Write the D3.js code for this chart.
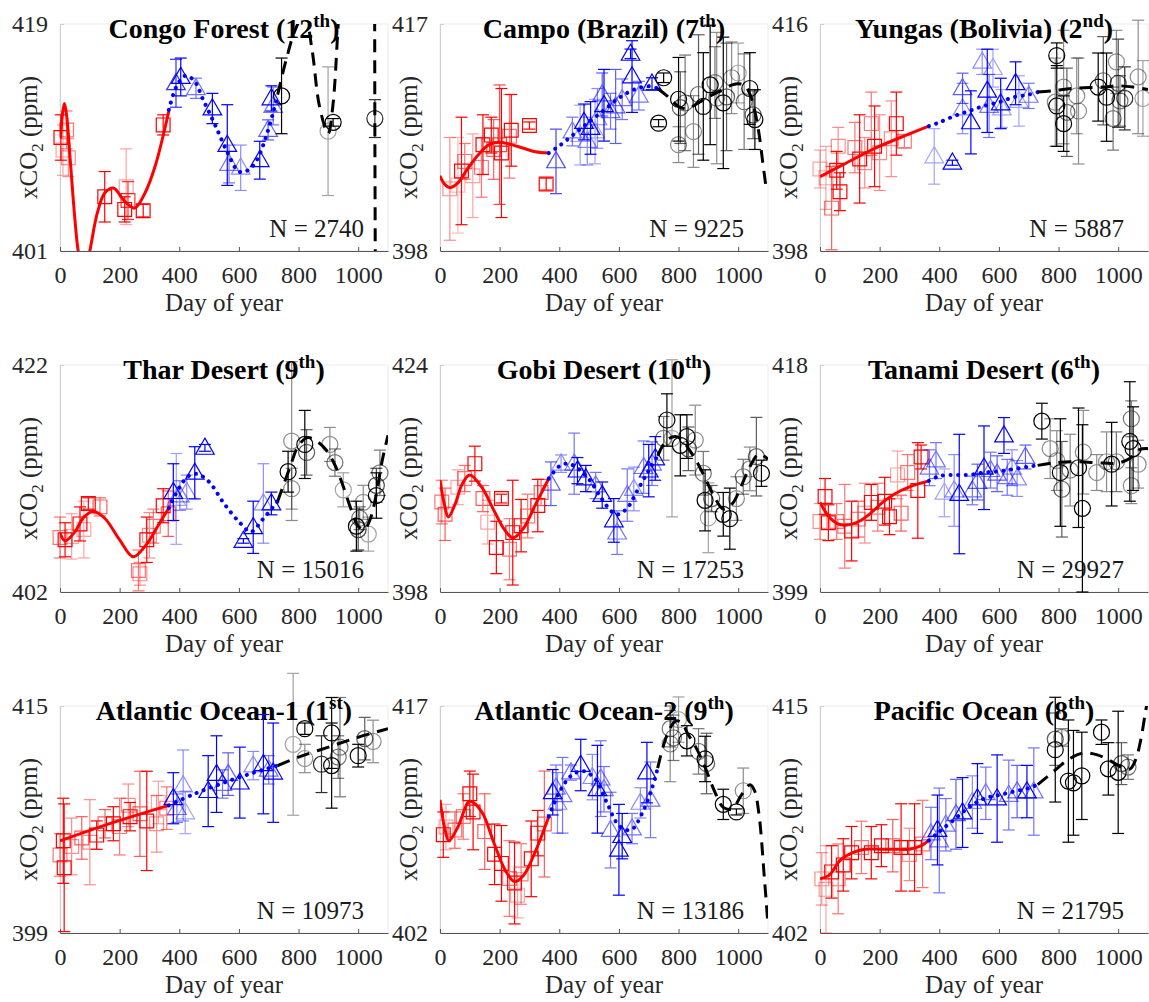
<!DOCTYPE html>
<html>
<head>
<meta charset="utf-8">
<script src="https://cdn.jsdelivr.net/npm/d3@7"></script>
<style>
  body { margin: 0; background: #fff; }
  svg { display: block; font-family: "Liberation Serif", "Times New Roman", serif; }
</style>
</head>
<body>
<svg id="chart" width="1149" height="1002"></svg>
<script>
// ---- shared axis settings ----
const X_DOMAIN = [0, 1100];
const X_TICKS = [0, 200, 400, 600, 800, 1000];

// Observations: [day, xCO2 (ppm), error half-width (ppm), weight 0..1]
// Fitted curves: [day, xCO2 (ppm)]

// Congo Forest
const congoYear1 = [[3,410.0,1.8,1],[22,410.6,1.5,0.5],[28,408.4,1.5,0.4],[10,409.0,2,0.3],[150,405.3,2.0,1],[222,406.1,3.0,0.3],[217,404.3,1.0,1],[228,405.0,1.5,0.8],[279,404.2,0.5,1],[346,411.0,0.8,1]];
const congoYear2 = [[389,414.3,1.9,0.8],[405,414.8,1.5,1],[456,413.9,0.8,0.5],[511,412.3,1.2,1],[561,409.4,3.2,1],[567,407.9,1.5,0.5],[606,407.6,1.8,0.4],[670,408.2,1.5,1],[698,410.6,0.8,0.6],[709,413.1,1.0,1],[715,412.5,1.5,0.5]];
const congoYear3 = [[743,413.3,3.0,1],[899,410.5,5.1,0.3],[916,411.2,0.3,1],[1056,411.5,1.5,0.8]];
const congoFit1 = [[2,409.9],[9,412.0],[15,412.7],[22,411.8],[35,408.0],[50,403.5],[61,401],[80,398.8],[100,401],[125,404.0],[150,405.6],[179,406.0],[215,405.0],[250,404.4],[285,405.6],[320,407.8],[365,412.1]];
const congoFit2 = [[365,412.2],[390,414.0],[420,414.9],[450,414.5],[480,413.0],[520,411.0],[560,408.9],[600,407.3],[630,407.4],[660,408.2],[690,410.0],[715,412.0],[730,413.4]];
const congoFit3 = [[730,413.4],[760,416.3],[790,418.6],[820,419.8],[845,417],[870,412.5],[899,410.3],[915,412.5],[933,419],[960,430],[1000,440],[1045,440],[1054,425],[1056,410],[1058,395],[1060,380]];

// Campo (Brazil)
const campoYear1 = [[33,403.2,4.3,0.4],[72,404.7,4.5,1],[83,405.5,1.5,0.5],[110,404.3,3.5,0.3],[139,405.0,2.5,0.5],[144,406.9,2.5,1],[172,407.7,1.5,1],[180,406.5,2.5,0.6],[200,406.9,5.0,0.7],[206,406.2,5.4,1],[233,407.6,3.5,0.5],[239,408.1,3,1],[300,408.5,0.3,1],[356,403.6,0.5,1],[60,403.5,4,0.2]];
const campoYear2 = [[389,405.5,2.7,0.7],[444,408.0,1.2,0.5],[483,408.8,1.5,1],[494,407.2,2,0.4],[505,408.3,2.2,1],[528,409.1,2.5,0.4],[544,411.1,1.8,0.6],[550,410.2,3,1],[572,409.7,1.5,0.5],[589,410.1,3.1,0.6],[611,410.7,1.7,0.5],[639,414.5,0.4,1],[644,412.6,3.0,1],[667,411.0,1.2,0.5],[711,412.0,0.5,1],[470,407.7,2.5,0.3],[520,408.0,2.7,0.3]];
const campoYear3 = [[733,408.7,0.3,1],[750,412.5,0.4,1],[800,410.7,3.5,1],[806,410.0,3,0.6],[800,406.9,1.5,0.4],[822,410.4,4,0.5],[850,408.0,3,0.4],[867,411.1,5,0.6],[883,410.1,4.5,1],[906,411.9,5,1],[922,412.1,3,0.5],[928,410.8,5.5,0.4],[950,410.4,5.5,1],[961,410.9,4.5,0.6],[978,412.5,3,0.4],[1000,412.9,2.5,0.3],[1039,411.6,3.0,1],[1050,409.4,2,0.6],[1056,409.0,2.5,1],[1020,410.5,4,0.5]];
const campoFit1 = [[0,404.3],[15,403.6],[33,403.3],[60,403.7],[90,404.8],[130,406.1],[165,406.9],[200,407.1],[240,406.9],[280,406.6],[320,406.3],[365,406.2]];
const campoFit2 = [[365,406.2],[400,406.8],[450,407.8],[500,408.8],[550,409.8],[600,410.8],[650,411.5],[700,411.8],[730,411.6]];
const campoFit3 = [[730,411.6],[770,410.8],[800,410.1],[830,409.9],[860,410.3],[900,410.9],[940,411.4],[980,411.9],[1000,412.0],[1020,411.9],[1040,411.1],[1055,409.8],[1070,407.8],[1082,405.5],[1092,403.6]];

// Yungas (Bolivia)
const yungasYear1 = [[0,404.5,1.5,0.3],[39,401.4,3.3,0.6],[56,404.4,1.5,1],[61,406.3,1.5,0.4],[67,402.7,1.5,1],[117,406.2,2.0,0.5],[133,405.3,3.5,1],[150,405.0,2.0,0.4],[172,408.1,2.5,0.5],[183,406.3,3.2,1],[200,405.8,3,0.4],[239,406.9,3.0,0.4],[256,408.1,2.5,1],[283,406.7,0.5,0.5],[20,403.8,2.5,0.3]];
const yungasYear2 = [[383,405.5,2.2,0.3],[444,405.0,0.2,1],[478,410.9,1.2,0.6],[478,409.3,2,0.4],[506,408.2,2.5,1],[544,413.0,1.0,0.4],[561,410.7,3.3,1],[567,409.5,2.5,0.5],[606,409.7,2.0,1],[656,411.3,1.7,1],[667,409.9,2.0,0.3],[700,410.3,1.0,0.5],[610,409.3,1.5,0.3],[580,412.5,1.5,0.3]];
const yungasYear3 = [[794,413.5,1.0,1],[789,409.8,3.5,0.4],[794,409.5,3.2,1],[817,408.1,2.2,1],[817,411.0,4.5,0.4],[828,409.0,3.5,0.6],[861,410.3,3.0,0.4],[867,409.1,4.2,0.4],[933,411.0,2.7,1],[950,411.5,3.5,0.6],[961,410.2,3.5,1],[983,408.5,2.5,0.5],[994,413.0,2.5,0.4],[1000,411.3,3.5,0.7],[1006,409.9,2,0.5],[1022,410.1,2.5,0.8],[1067,411.8,4.5,0.4],[1083,410.1,3,0.3]];
const yungasFit1 = [[0,403.9],[90,405.0],[180,406.1],[270,407.0],[365,407.9]];
const yungasFit2 = [[365,407.9],[400,408.2],[450,408.7],[500,409.1],[550,409.5],[600,409.8],[650,410.2],[700,410.4],[730,410.6]];
const yungasFit3 = [[730,410.6],[780,410.7],[850,410.9],[950,411.0],[1000,411.1],[1050,411.0],[1100,410.8]];

// Thar Desert
const tharYear1 = [[0,406.8,1.8,0.5],[17,406.6,1.5,1],[39,406.9,2,0.3],[67,408.0,1.5,1],[95,409.8,0.5,1],[134,409.5,0.8,0.6],[263,403.9,1.8,0.5],[268,403.6,1.0,0.4],[291,406.6,2.0,1],[313,407.8,1.5,0.5],[346,409.6,1.5,1],[363,408.9,2,0.6],[80,407.5,2.5,0.3],[300,407,2,0.4]];
const tharYear2 = [[380,410.8,2.5,1],[402,410.5,1.3,0.5],[425,410.8,1.5,0.4],[452,412.5,2.3,1],[486,414.7,0.3,1],[615,406.5,0.2,1],[648,407.7,2.3,1],[682,409.8,3.5,0.4],[709,409.8,1.0,1],[390,410.2,4,0.3]];
const tharYear3 = [[777,415.3,7,0.4],[765,412.6,1.8,1],[777,411.1,1.8,0.4],[821,415.0,3.0,1],[827,414.3,2,0.6],[905,415.0,1.5,0.4],[922,413.4,1.2,0.5],[950,411.0,1.5,0.3],[994,407.8,2.2,1],[1000,407.5,1.8,0.7],[1034,407.1,1.5,0.3],[1017,409.9,1.5,0.4],[1061,410.5,2.0,1],[1073,412.5,2.0,0.5],[1061,411.4,1.5,0.7],[1005,408.5,1,0.5]];
const tharFit1 = [[0,407.2],[17,406.5],[50,407.3],[80,408.6],[112,409.1],[150,408.5],[200,406.6],[246,405.1],[290,406.2],[330,407.9],[365,409.4]];
const tharFit2 = [[365,409.4],[400,411.2],[430,412.2],[460,412.4],[500,411.7],[550,409.8],[600,408.2],[640,407.3],[680,408.4],[730,410.0]];
const tharFit3 = [[730,410.0],[770,412.9],[800,414.9],[830,415.6],[860,415.3],[890,414.6],[920,413.3],[950,411.3],[980,409.0],[1000,407.8],[1020,407.5],[1040,408.4],[1060,410.5],[1080,413.5],[1100,415.8]];

// Gobi Desert
const gobiYear1 = [[6,408.3,2.5,0.5],[17,406.9,3,0.6],[83,411.0,1.5,0.5],[117,412.7,2,1],[144,408.7,1.5,0.6],[206,408.7,0.5,1],[189,403.1,3,1],[233,402.9,3.5,0.5],[244,404.8,6,1],[272,405.6,3,1],[294,406.7,2.5,0.5],[328,407.9,3,1],[339,409.4,1.5,0.6],[160,406,2.5,0.3],[60,410,2,0.3]];
const gobiYear2 = [[372,410.4,2.5,0.6],[406,412.7,1.0,0.4],[450,412.7,3.5,0.5],[461,411.9,1.5,1],[489,411.0,1.5,1],[522,410.2,1.5,0.5],[544,409.1,1.5,1],[583,406.2,2.5,1],[594,404.8,2.5,0.5],[628,409.1,3,0.5],[650,409.8,2.5,0.4],[683,412.3,3,0.5],[700,411.9,3,1],[711,412.7,2.5,0.5],[722,413.3,2.5,1]];
const gobiYear3 = [[761,417.7,3,1],[750,415.6,2.5,0.5],[778,415.6,9,0.3],[806,414.8,3.5,1],[828,415.8,2.5,1],[833,414.4,2.5,0.6],[856,415.4,4,0.4],[883,411.6,2.5,0.5],[889,408.5,3.5,1],[911,408.7,1.5,0.6],[950,406.9,2.5,1],[972,406.4,3.5,1],[994,408.7,2.5,0.4],[1017,411.2,2.0,0.5],[1039,412.1,2.5,0.4],[1061,413.5,4.5,0.6],[1078,411.6,1.5,1],[900,406.5,4,0.3]];
const gobiFit1 = [[0,410.8],[15,408.0],[28,406.6],[50,408.0],[75,410.4],[100,411.4],[140,410.0],[180,407.4],[215,405.2],[245,404.2],[280,405.3],[320,408.0],[365,411.0]];
const gobiFit2 = [[365,411.0],[400,412.4],[430,412.7],[460,412.2],[500,410.9],[540,408.8],[580,407.1],[600,406.9],[630,407.7],[660,409.5],[700,411.9],[730,413.6]];
const gobiFit3 = [[730,413.6],[760,415.4],[790,415.8],[810,415.5],[830,414.6],[860,413.0],[890,411.0],[920,408.9],[950,407.5],[980,408.1],[1010,410.1],[1040,412.4],[1070,413.8],[1100,413.2]];

// Tanami Desert
const tanamiYear1 = [[0,404.9,1.5,0.4],[17,407.0,1.5,1],[28,404.8,1.5,1],[56,404.9,1.5,0.5],[83,404.5,3.5,0.5],[106,404.1,2.5,1],[128,405.1,1.5,0.6],[150,405.6,2.5,0.4],[172,406.5,1.5,1],[194,406.1,2,0.5],[217,406.6,2,1],[233,405.3,1.5,1],[272,405.6,1.5,0.6],[294,409.0,1.5,0.5],[328,407.5,4,1],[339,410.3,1.0,1],[260,408.8,2,0.3]];
const tanamiYear2 = [[367,409.4,1.5,0.5],[389,410.0,1.5,0.5],[417,407.3,2,0.3],[450,407.5,3,0.4],[467,407.2,5,1],[511,407.5,1.2,0.5],[528,408.2,1.5,0.6],[550,409.4,3.5,1],[572,409.2,1.5,0.5],[594,408.9,1.5,0.6],[617,412.1,1.5,1],[628,408.6,1.5,0.5],[644,409.4,1.5,0.4],[661,408.5,1.5,0.4],[689,410.3,1,0.6]];
const tanamiYear3 = [[744,413.3,1.5,1],[772,411.0,2.5,0.4],[794,410.0,2.5,0.4],[806,409.0,4.5,1],[811,407.6,4,0.6],[839,409.2,3,0.4],[867,409.4,5,1],[883,410.7,3.5,0.4],[880,406.0,7,1],[928,409.0,1.5,0.4],[961,409.9,2.5,0.4],[978,409.7,3.5,1],[994,409.9,2.5,0.5],[1044,413.5,1.5,0.5],[1039,411.6,5,1],[1050,411.0,3.5,1],[1044,407.9,1.5,0.4],[1067,409.7,2,0.4]];
const tanamiFit1 = [[0,406.5],[30,405.3],[60,404.7],[90,404.6],[130,404.9],[170,405.6],[210,406.5],[250,407.2],[300,407.8],[365,408.3]];
const tanamiFit2 = [[365,408.3],[400,408.7],[450,408.8],[500,408.8],[550,409.0],[600,409.1],[650,409.3],[700,409.5],[730,409.6]];
const tanamiFit3 = [[730,409.6],[780,409.8],[850,409.9],[950,409.8],[1000,409.8],[1040,410.2],[1070,410.9],[1100,411.0]];

// Atlantic Ocean-1
const atl1Year1 = [[0,404.5,1.5,0.5],[11,405.5,3,1],[14,403.6,4.5,1],[39,405.1,2,0.4],[73,405.7,1.5,0.6],[100,405.4,3,0.4],[123,405.9,1,1],[151,406.7,1,0.6],[179,406.7,1.2,1],[200,406.5,2,0.5],[229,408.0,1.5,0.4],[235,407.2,1,1],[268,407.4,3.0,0.6],[291,406.9,3.5,1],[324,406.7,2.0,0.4],[358,407.8,1.5,0.5],[330,408.2,1.5,0.3]];
const atl1Year2 = [[380,408.5,1.8,1],[392,407.8,1,0.5],[413,409.4,2.5,0.4],[497,409.0,2.5,1],[525,410.2,2.7,1],[545,409.5,1,0.5],[564,410.2,1.5,0.6],[603,409.6,2.5,1],[648,410.8,1,0.4],[682,410.9,3.5,1],[715,410.3,3.5,1],[700,410.5,1,0.5],[420,407.5,1.5,0.3]];
const atl1Year3 = [[782,412.3,5.0,0.3],[821,413.4,0.4,1],[821,411.3,1.0,0.4],[877,410.9,2,0.8],[911,413.1,2.5,1],[911,410.8,3,1],[933,411.4,1.5,0.5],[939,412.1,3.5,0.5],[1000,411.5,0.8,1],[1022,412.7,1.5,0.6],[1050,412.5,1.5,0.4]];
const atl1Fit1 = [[0,405.5],[180,406.8],[365,408.0]];
const atl1Fit2 = [[365,408.0],[450,408.8],[550,409.6],[650,410.3],[730,410.8]];
const atl1Fit3 = [[730,410.8],[800,411.4],[900,412.1],[1000,412.8],[1100,413.4]];

// Atlantic Ocean-2
const atl2Year1 = [[11,408.5,1.5,1],[20,409,1.5,0.3],[50,408.8,1.2,0.6],[78,409.7,1.5,0.5],[100,411.2,1.5,1],[111,410.0,2.5,1],[150,408.7,2.5,0.6],[183,407.2,2.0,1],[206,406.6,2.5,1],[233,405.6,2.5,0.5],[250,405.3,2.7,1],[272,405.9,2,0.5],[306,406.9,2.5,1],[328,408.6,1.5,1],[350,409.2,3.5,0.6],[260,404.5,1.5,0.3]];
const atl2Year2 = [[378,411.3,1.5,1],[389,411.6,1.5,0.5],[394,410.6,2,0.4],[411,411.1,2.5,0.5],[439,412.6,0.5,0.5],[472,413.1,1.7,1],[511,412.3,1.5,0.4],[528,411.5,2.9,1],[539,412.2,2.5,0.5],[550,411.5,1.5,0.5],[572,408.8,2.5,0.5],[611,408.4,1.5,1],[644,408.9,1.0,0.5],[672,410.6,1,0.4],[694,412.6,2,1],[706,410.8,2.5,0.5],[600,407.5,3,1]];
const atl2Year3 = [[772,415.5,1.2,0.5],[783,414.9,1.5,0.5],[800,416.1,1.5,0.3],[828,414.7,1.0,1],[867,414.0,1.5,0.5],[889,413.5,1.5,1],[894,413.2,2,0.6],[950,410.5,1.0,1],[994,410.0,0.2,1],[1017,411.4,1.5,0.4],[772,414.5,2.5,0.4]];
const atl2Fit1 = [[0,410.8],[15,409.0],[30,408.1],[60,409.0],[100,410.7],[140,410.0],[180,408.0],[220,406.1],[250,405.4],[280,405.8],[320,407.4],[365,409.7]];
const atl2Fit2 = [[365,409.7],[400,411.3],[440,412.4],[480,412.7],[520,412.2],[560,410.6],[600,409.1],[640,408.8],[680,410.0],[710,411.5],[730,412.9]];
const atl2Fit3 = [[730,412.9],[760,415.0],[790,416.0],[810,415.9],[830,415.2],[860,414.2],[890,412.9],[920,411.4],[950,410.3],[980,410.2],[1010,411.1],[1040,411.8],[1055,411.4],[1070,409.8],[1088,405.6],[1100,402.5]];

// Pacific Ocean
const pacYear1 = [[6,405.1,1.5,0.4],[39,405.5,1.5,1],[61,405.1,2,0.5],[78,405.9,1.5,1],[106,406.6,1.5,1],[139,406.9,1.5,0.5],[172,406.6,1.5,1],[206,407.0,1.2,1],[244,407.0,1.5,0.6],[272,406.9,2.5,1],[317,406.9,2.5,1],[344,407.1,2.5,0.5],[20,404.5,2.5,0.3],[300,406.5,1.5,0.4]];
const pacYear2 = [[372,407.7,1.5,0.5],[394,407.9,2,1],[422,408.2,1.5,0.5],[456,408.8,2,0.6],[478,408.9,2,1],[511,409.5,1.5,0.4],[528,409.7,2,1],[556,410.0,1.5,0.5],[594,409.7,2.5,1],[633,409.9,2,0.5],[661,410.1,1.5,0.6],[694,410.1,1.5,1],[717,410.1,2.5,0.5],[400,407.3,3,0.5]];
const pacYear3 = [[789,413.1,1.5,0.6],[789,412.5,3.0,1],[811,413.2,0.5,0.5],[833,410.7,3.5,1],[850,410.6,3.0,1],[878,411.0,2.5,1],[944,413.5,0.7,1],[967,411.4,1.5,1],[1000,411.2,3.5,1],[1011,411.7,1.2,0.6],[1033,411.5,0.7,0.5]];
const pacFit1 = [[0,405.1],[30,405.3],[70,406.2],[110,406.6],[150,406.8],[200,406.8],[250,406.8],[300,406.8],[340,407.0],[365,407.3]];
const pacFit2 = [[365,407.3],[400,407.8],[450,408.5],[500,409.2],[550,409.7],[600,409.9],[650,410.1],[700,410.3],[730,410.5]];
const pacFit3 = [[730,410.5],[780,411.2],[830,411.9],[880,412.3],[930,412.2],[980,411.8],[1010,411.5],[1040,411.4],[1060,412.0],[1075,413.0],[1090,414.5],[1100,415.5]];

// Panel titles, ranks, sample counts and y ranges
const siteNames = ["Congo Forest", "Campo (Brazil)", "Yungas (Bolivia)", "Thar Desert", "Gobi Desert", "Tanami Desert", "Atlantic Ocean-1", "Atlantic Ocean-2", "Pacific Ocean"];
const siteRanks = [["12","th"], ["7","th"], ["2","nd"], ["9","th"], ["10","th"], ["6","th"], ["1","st"], ["9","th"], ["8","th"]];
const siteCounts = ["2740", "9225", "5887", "15016", "17253", "29927", "10973", "13186", "21795"];
const yRanges = [[401,419], [398,417], [398,416], [402,422], [398,424], [399,418], [399,415], [402,417], [402,415]];

const obs = [
  [congoYear1, congoYear2, congoYear3], [campoYear1, campoYear2, campoYear3], [yungasYear1, yungasYear2, yungasYear3],
  [tharYear1, tharYear2, tharYear3], [gobiYear1, gobiYear2, gobiYear3], [tanamiYear1, tanamiYear2, tanamiYear3],
  [atl1Year1, atl1Year2, atl1Year3], [atl2Year1, atl2Year2, atl2Year3], [pacYear1, pacYear2, pacYear3]
];
const fits = [
  [congoFit1, congoFit2, congoFit3], [campoFit1, campoFit2, campoFit3], [yungasFit1, yungasFit2, yungasFit3],
  [tharFit1, tharFit2, tharFit3], [gobiFit1, gobiFit2, gobiFit3], [tanamiFit1, tanamiFit2, tanamiFit3],
  [atl1Fit1, atl1Fit2, atl1Fit3], [atl2Fit1, atl2Fit2, atl2Fit3], [pacFit1, pacFit2, pacFit3]
];

// ---- drawing ----
const FONT = "'Liberation Serif', 'Times New Roman', serif";
const colX = [60, 440, 820];
const rowY = [24, 365, 706];
const W = 328, H = 227;
const yearColors = ["#ff0000", "#0000ff", "#000000"];

const svg = d3.select("#chart");
const x = d3.scaleLinear().domain(X_DOMAIN).range([0, W]);
const weightToOpacity = d3.scaleLinear().domain([0, 1]).range([0.08, 1]);

const markerPath = [
  d3.symbol().type(d3.symbolSquare).size(190)(),
  d3.symbol().type(d3.symbolTriangle).size(150)(),
  null
];

siteNames.forEach((name, i) => {
  const g = svg.append("g")
    .attr("transform", `translate(${colX[i % 3]},${rowY[Math.floor(i / 3)]})`);
  const y = d3.scaleLinear().domain(yRanges[i]).range([H, 0]);

  // frame
  g.append("rect").attr("width", W).attr("height", H)
    .attr("fill", "none").attr("stroke", "#ebebeb").attr("stroke-width", 1);

  // title with superscript ordinal
  const t = g.append("text")
    .attr("x", W / 2).attr("y", 14)
    .attr("text-anchor", "middle")
    .attr("font-family", FONT).attr("font-weight", "bold").attr("font-size", 28)
    .attr("fill", "#000");
  t.append("tspan").text(`${name} (${siteRanks[i][0]}`);
  t.append("tspan").attr("font-size", 19).attr("dy", -11).text(siteRanks[i][1]);
  t.append("tspan").attr("dy", 11).text(")");

  // sample count
  g.append("text")
    .attr("x", W - 24).attr("y", H - 14)
    .attr("text-anchor", "end")
    .attr("font-family", FONT).attr("font-size", 25).attr("fill", "#1a1a1a")
    .text(`N = ${siteCounts[i]}`);

  // axis titles
  const yl = g.append("text")
    .attr("transform", `translate(${-23},${H / 2}) rotate(-90)`)
    .attr("text-anchor", "middle")
    .attr("font-family", FONT).attr("font-size", 25).attr("fill", "#262626");
  yl.append("tspan").text("xCO");
  yl.append("tspan").attr("font-size", 17).attr("dy", 6).text("2");
  yl.append("tspan").attr("dy", -6).text(" (ppm)");

  g.append("text")
    .attr("x", W / 2).attr("y", H + 60)
    .attr("text-anchor", "middle")
    .attr("font-family", FONT).attr("font-size", 25).attr("fill", "#262626")
    .text("Day of year");

  // axes
  const yAxis = g.append("g")
    .call(d3.axisLeft(y).tickValues(yRanges[i]).tickFormat(d3.format("d"))
      .tickSizeInner(-4).tickSizeOuter(0).tickPadding(12));
  yAxis.attr("font-family", FONT).attr("font-size", 24);
  yAxis.select(".domain").attr("stroke", "#cfcfcf");
  yAxis.selectAll(".tick line").attr("stroke", "#cfcfcf");
  yAxis.selectAll(".tick text").attr("fill", "#262626");

  const xAxis = g.append("g").attr("transform", `translate(0,${H})`)
    .call(d3.axisBottom(x).tickValues(X_TICKS).tickFormat(d3.format("d"))
      .tickSizeInner(-4).tickSizeOuter(0).tickPadding(15));
  xAxis.attr("font-family", FONT).attr("font-size", 24);
  xAxis.select(".domain").attr("stroke", "#555").attr("stroke-width", 1.2);
  xAxis.selectAll(".tick line").attr("stroke", "#555");
  xAxis.selectAll(".tick text").attr("fill", "#262626");

  // clip for fitted curves
  const clipId = `plot-clip-${i}`;
  g.append("clipPath").attr("id", clipId)
    .append("rect").attr("width", W).attr("height", H);

  // observations with error bars
  obs[i].forEach((pts, k) => {
    const color = yearColors[k];
    const sel = g.append("g").selectAll("g.obs").data(pts).join("g")
      .attr("class", "obs")
      .attr("opacity", d => weightToOpacity(d[3]))
      .attr("stroke", color).attr("fill", "none").attr("stroke-width", 1.2);
    sel.append("line")
      .attr("x1", d => x(d[0])).attr("x2", d => x(d[0]))
      .attr("y1", d => y(d[1] + d[2])).attr("y2", d => y(d[1] - d[2]));
    sel.append("line")
      .attr("x1", d => x(d[0]) - 6).attr("x2", d => x(d[0]) + 6)
      .attr("y1", d => y(d[1] + d[2])).attr("y2", d => y(d[1] + d[2]));
    sel.append("line")
      .attr("x1", d => x(d[0]) - 6).attr("x2", d => x(d[0]) + 6)
      .attr("y1", d => y(d[1] - d[2])).attr("y2", d => y(d[1] - d[2]));
    if (k < 2) {
      sel.append("path")
        .attr("d", markerPath[k])
        .attr("transform", d => `translate(${x(d[0])},${y(d[1]) + (k === 1 ? 1 : 0)})`);
    } else {
      sel.append("circle")
        .attr("cx", d => x(d[0])).attr("cy", d => y(d[1])).attr("r", 8);
    }
  });

  // fitted curves
  const line = d3.line()
    .x(d => x(d[0])).y(d => y(d[1]))
    .curve(d3.curveCatmullRom.alpha(0.5));
  const fitGroup = g.append("g").attr("clip-path", `url(#${clipId})`).attr("fill", "none");
  fitGroup.append("path").datum(fits[i][0]).attr("d", line)
    .attr("stroke", yearColors[0]).attr("stroke-width", 3);
  fitGroup.append("path").datum(fits[i][1]).attr("d", line)
    .attr("stroke", yearColors[1]).attr("stroke-width", 4)
    .attr("stroke-linecap", "round").attr("stroke-dasharray", "0.1 7.5");
  fitGroup.append("path").datum(fits[i][2]).attr("d", line)
    .attr("stroke", yearColors[2]).attr("stroke-width", 3)
    .attr("stroke-dasharray", "13 8");
});
</script>
</body>
</html>
